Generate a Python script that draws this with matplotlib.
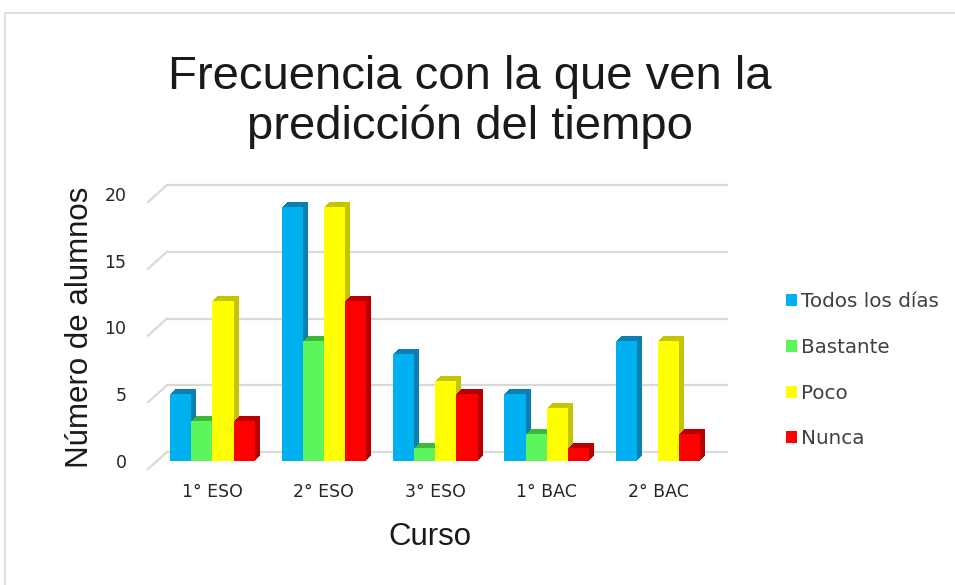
import matplotlib
matplotlib.use("Agg")
import matplotlib.pyplot as plt
import matplotlib.transforms as mtransforms
from matplotlib.patches import Patch, Rectangle
from matplotlib.lines import Line2D
import numpy as np

categories = ["1° ESO", "2° ESO", "3° ESO", "1° BAC", "2° BAC"]
series_names = ["Todos los días", "Bastante", "Poco", "Nunca"]
todos = [5, 19, 8, 5, 9]
bastante = [3, 9, 1, 2, 0]
poco = [12, 19, 6, 4, 9]
nunca = [3, 12, 5, 1, 2]
yticks = [0, 5, 10, 15, 20]

series = [todos, bastante, poco, nunca]
front_colors = ["#00B0F0", "#5CF55C", "#FFFF00", "#FF0000"]
side_colors = ["#0A7FB0", "#3DB83D", "#C4C400", "#B80000"]

W, H = 955, 585
fig = plt.figure(figsize=(W / 100, H / 100), dpi=100)
fig.patch.set_facecolor("white")

# outer frame
fig.add_artist(Rectangle((5 / W, -0.05), 1.2, 1 - 13 / H + 0.05, transform=fig.transFigure,
                         fill=False, edgecolor="#d9d9d9", linewidth=1.2))

left, right, bot, top = 150, 710, 461, 194
ax = fig.add_axes([left / W, (H - bot) / H, (right - left) / W, (bot - top) / H])
ax.set_xlim(-0.561, 4.466)
ax.set_ylim(0, 20)
for s in ax.spines.values():
    s.set_visible(False)
ax.set_facecolor("none")

# back wall gridlines with depth offset
blend = mtransforms.blended_transform_factory(ax.transAxes, ax.transData)
back = mtransforms.offset_copy(blend, fig=fig, x=17, y=9, units="dots")
front_stub = mtransforms.offset_copy(blend, fig=fig, x=-2, y=-8, units="dots")
inv = fig.transFigure.inverted()
for yv in yticks:
    ax.add_line(Line2D([0, 1.0], [yv, yv], transform=back, color="#d9d9d9", lw=1.6,
                       clip_on=False, zorder=0))
    q0 = inv.transform(front_stub.transform((0, yv)))
    q1 = inv.transform(back.transform((0, yv)))
    fig.add_artist(Line2D([q0[0], q1[0]], [q0[1], q1[1]], transform=fig.transFigure,
                          color="#d9d9d9", lw=1.6, zorder=0))

x = np.arange(len(categories))
bw = 0.19
depth = 5
z = 2
for i, (vals, fc, sc) in enumerate(zip(series, front_colors, side_colors)):
    xpos = x + (i - 1.5) * bw
    for k in range(depth, 0, -1):
        tr = mtransforms.offset_copy(ax.transData, fig=fig, x=k, y=k, units="dots")
        ax.bar(xpos, vals, width=bw, color=sc, linewidth=0, transform=tr, zorder=z)
    z += 1
    ax.bar(xpos, vals, width=bw, color=fc, linewidth=0, zorder=z, label=series_names[i])
    z += 1

ax.set_yticks(yticks)
ax.set_yticklabels([str(v) for v in yticks])
ax.set_xticks(x)
ax.set_xticklabels(categories)
ax.tick_params(length=0, labelsize=12.5, colors="#262626")
ax.tick_params(axis="y", pad=17)
ax.tick_params(axis="x", pad=16)

ax.set_xlabel("Curso", fontsize=22.5, family="Liberation Sans", color="#1a1a1a", labelpad=15)
ax.set_ylabel("Número de alumnos", fontsize=22.5, family="Liberation Sans", color="#1a1a1a",
              labelpad=7)

fig.text(470 / W, 1 - 102 / H, "Frecuencia con la que ven la\npredicción del tiempo",
         ha="center", va="center", fontsize=34, family="Liberation Sans", color="#1a1a1a",
         linespacing=1.15)

handles = [Patch(facecolor=c, edgecolor="none") for c in front_colors]
leg = fig.legend(handles, series_names, loc="upper left",
                 bbox_to_anchor=(786 / W, 1 - 292 / H), frameon=False, fontsize=14.3,
                 handlelength=0.55, handleheight=0.55, handletextpad=0.2, labelspacing=1.35,
                 borderpad=0, borderaxespad=0)
for t in leg.get_texts():
    t.set_color("#404040")

fig.savefig("out.png", dpi=100, facecolor="white")
